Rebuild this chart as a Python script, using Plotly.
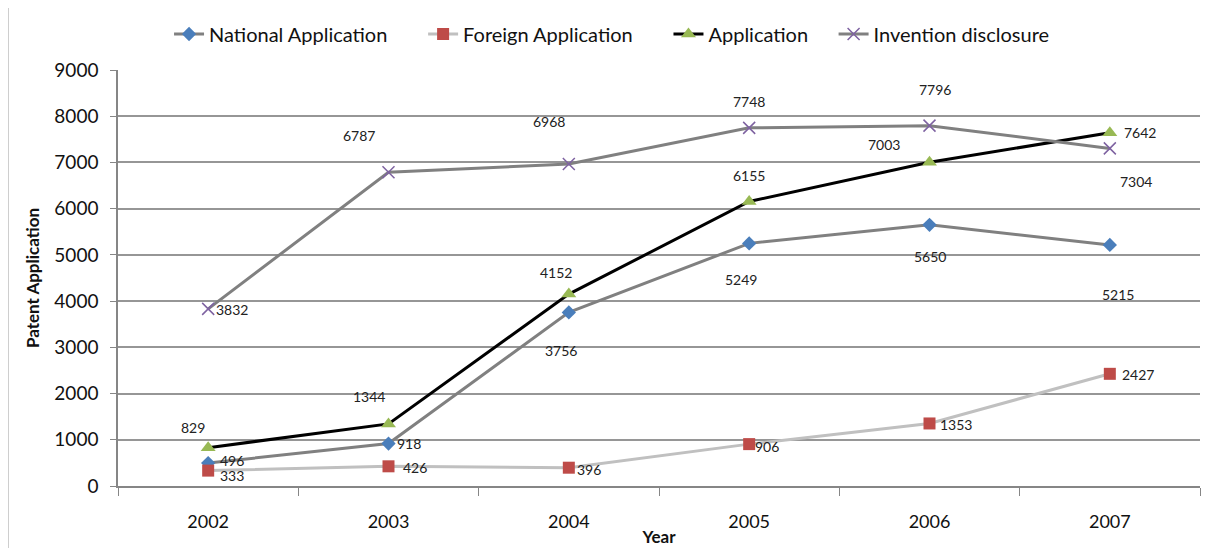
import plotly.graph_objects as go

years = ["2002", "2003", "2004", "2005", "2006", "2007"]
national = [496, 918, 3756, 5249, 5650, 5215]
foreign = [333, 426, 396, 906, 1353, 2427]
application = [829, 1344, 4152, 6155, 7003, 7642]
invention = [3832, 6787, 6968, 7748, 7796, 7304]
y_ticks = [0, 1000, 2000, 3000, 4000, 5000, 6000, 7000, 8000, 9000]

# label offsets in pixels (dx, dy with dy positive = down)
off_nat = [(24, -3), (20, 0), (-8, 38), (-8, 36), (0, 32), (8, 50)]
off_for = [(24, 5), (26, 1), (20, 2), (18, 2), (26, 1), (28, 1)]
off_app = [(-15, -20), (-20, -27), (-13, -22), (0, -26), (-46, -18), (30, 0)]
off_inv = [(24, 1), (-30, -37), (-20, -42), (0, -26), (5, -36), (26, 33)]

FONT = "Lato"
NB = "\u00a0"
fig = go.Figure()

series = [
    ("National Application" + NB * 6, national, "#808080", "#4a7ebb", "diamond", 11, off_nat),
    ("Foreign Application" + NB * 6, foreign, "#c0c0c0", "#be4b48", "square", 12, off_for),
    ("Application" + NB * 4, application, "#000000", "#98b954", "triangle-up", 13, off_app),
    ("Invention disclosure", invention, "#808080", "#7e62a1", "x-thin", 12, off_inv),
]

for name, vals, lc, mc, sym, ms, offs in series:
    marker = dict(color=mc, symbol=sym, size=ms)
    if sym == "x-thin":
        marker["line"] = dict(color=mc, width=1.5)
    fig.add_trace(go.Scatter(
        x=years, y=vals, name=name, mode="lines+markers",
        line=dict(color=lc, width=3),
        marker=marker,
    ))
    for i, (yv, (dx, dy)) in enumerate(zip(vals, offs)):
        fig.add_annotation(
            x=i, y=yv, xref="x", yref="y", text=str(yv), showarrow=False,
            xshift=dx, yshift=-dy,
            font=dict(family=FONT, size=14, color="#222222"),
        )

L, T, W, H = 110, 62, 1208, 540
fig.update_layout(
    width=W, height=H,
    margin=dict(l=L, r=16, t=T, b=62, autoexpand=False),
    paper_bgcolor="white", plot_bgcolor="white",
    font=dict(family=FONT, size=16, color="#111111"),
    showlegend=True,
    legend=dict(orientation="h", x=0.4566, xanchor="center", y=1.0865, yanchor="middle",
                font=dict(family=FONT, size=20, color="#111111"),
                tracegroupgap=0),
    xaxis=dict(
        type="category", range=[-0.5, 5.5], tickson="boundaries",
        ticks="outside", ticklen=8, tickcolor="#868686",
        showline=True, linecolor="#868686", linewidth=1.5,
        showgrid=False, tickfont=dict(size=18), ticklabelstandoff=19,
        title=dict(text="<b>Year</b>", font=dict(size=17), standoff=0),
        fixedrange=True,
    ),
    yaxis=dict(
        range=[0, 9000], tickvals=y_ticks, ticks="outside", ticklen=6,
        tickcolor="#868686", showline=True, linecolor="#868686", linewidth=1.5,
        showgrid=True, gridcolor="#969696", gridwidth=1.5,
        zeroline=False, tickfont=dict(size=19), ticklabelstandoff=8,
        title=dict(text="<b>Patent Application</b>", font=dict(size=17), standoff=10),
    ),
    shapes=[dict(type="rect", xref="paper", yref="paper",
                 x0=(0 - L) / 1082, x1=(1201 - L) / 1082,
                 y0=-0.2, y1=1.25, line=dict(color="#bfbfbf", width=1.5),
                 layer="below")],
)

fig.write_html("out.html")
